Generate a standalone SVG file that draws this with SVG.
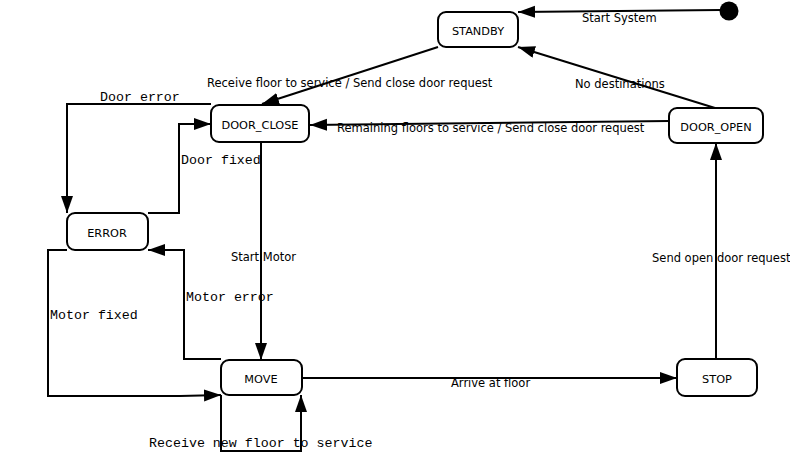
<svg xmlns="http://www.w3.org/2000/svg" width="790" height="452" viewBox="0 0 790 452">
  <style>
    .state rect { fill: #ffffff; stroke: #000000; stroke-width: 2; }
    .state text { font-family: "DejaVu Sans", Verdana, sans-serif; font-size: 11.3px; text-anchor: middle; fill: #000; }
    .edge { fill: none; stroke: #000000; stroke-width: 2; marker-end: url(#arrow); }
    .lbl { font-family: "DejaVu Sans", Verdana, sans-serif; font-size: 11.5px; fill: #000; }
    .mono { font-family: "Liberation Mono", "Courier New", monospace; font-size: 13.3px; fill: #000; }
  </style>
  <defs>
    <marker id="arrow" markerUnits="userSpaceOnUse" markerWidth="18" markerHeight="13" refX="17" refY="6" orient="auto">
      <path d="M0,0 L17,6 L0,12 Z" fill="#000"/>
    </marker>
  </defs>
  <rect width="790" height="452" fill="#ffffff"/>

  <!-- transitions -->
  <g id="connectors">
    <path class="edge" d="M720,10 L518,12"/>
    <text class="lbl" x="582" y="22">Start System</text>

    <path class="edge" d="M438,47 L262,104"/>
    <text class="lbl" x="207" y="87">Receive floor to service / Send close door request</text>

    <path class="edge" d="M715,108 L518,47"/>
    <text class="lbl" x="575" y="88">No destinations</text>

    <path class="edge" d="M669,121 L310,125"/>
    <text class="lbl" x="337" y="132">Remaining floors to service / Send close door request</text>

    <path class="edge" d="M211,104 L67,104 L67,213"/>
    <text class="mono" x="100" y="101">Door error</text>

    <path class="edge" d="M148,213 L179,213 L179,124 L211,124"/>
    <text class="mono" x="181" y="164">Door fixed</text>

    <path class="edge" d="M261,142 L261,360"/>
    <text class="lbl" x="231" y="261">Start Motor</text>

    <path class="edge" d="M221,359 L184,359 L184,250 L148,250"/>
    <text class="mono" x="186" y="301">Motor error</text>

    <path class="edge" d="M67,250 L48,250 L48,396 L180,396 L221,395"/>
    <text class="mono" x="50" y="319">Motor fixed</text>

    <path class="edge" d="M221,395 L221,451 L301,451 L301,395"/>
    <text class="mono" x="149" y="447">Receive new floor to service</text>

    <path class="edge" d="M302,378 L677,378"/>
    <text class="lbl" x="451" y="387">Arrive at floor</text>

    <path class="edge" d="M716,359 L716,143"/>
    <text class="lbl" x="652" y="262">Send open door request</text>
  </g>

  <!-- initial pseudo-state -->
  <g id="initial">
    <circle cx="729" cy="11" r="9.5" fill="#000"/>
  </g>

  <!-- states -->
  <g id="standby" class="state">
    <rect x="438" y="12" width="80" height="35" rx="8"/>
    <text x="478" y="35">STANDBY</text>
  </g>
  <g id="door_close" class="state">
    <rect x="211" y="105" width="98" height="37" rx="8"/>
    <text x="260" y="129">DOOR_CLOSE</text>
  </g>
  <g id="door_open" class="state">
    <rect x="669" y="108" width="94" height="35" rx="8"/>
    <text x="716" y="131">DOOR_OPEN</text>
  </g>
  <g id="error" class="state">
    <rect x="67" y="213" width="81" height="37" rx="8"/>
    <text x="107" y="237">ERROR</text>
  </g>
  <g id="move" class="state">
    <rect x="221" y="360" width="81" height="35" rx="8"/>
    <text x="261" y="383">MOVE</text>
  </g>
  <g id="stop" class="state">
    <rect x="677" y="359" width="80" height="37" rx="8"/>
    <text x="717" y="383">STOP</text>
  </g>
</svg>
